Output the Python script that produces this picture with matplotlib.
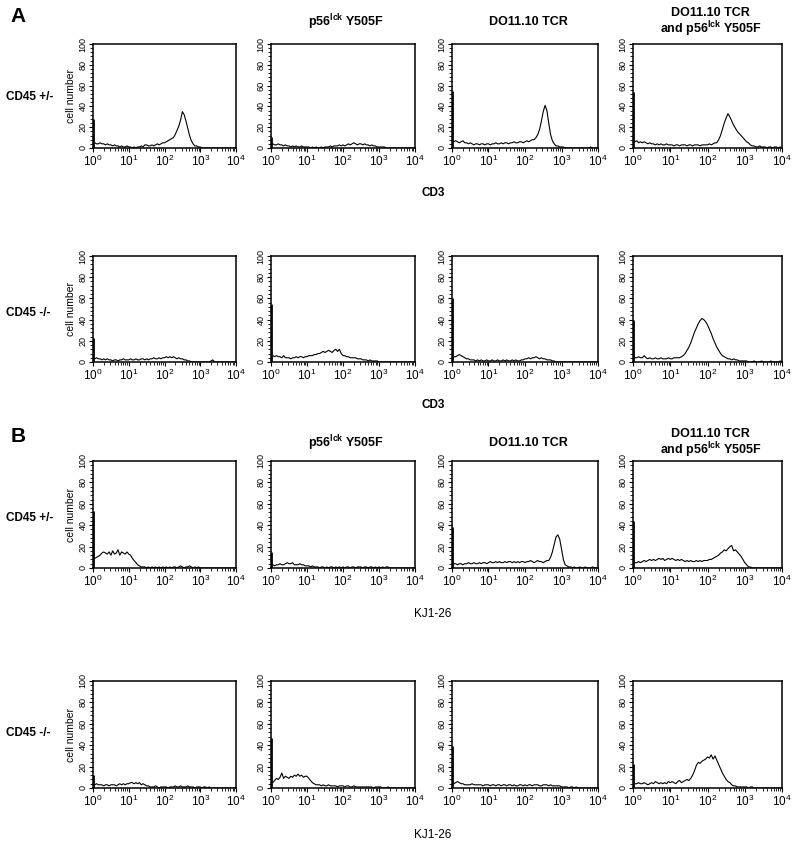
import numpy as np
import matplotlib
matplotlib.use("Agg")
import matplotlib.pyplot as plt
from matplotlib.ticker import LogLocator, LogFormatterMathtext, MultipleLocator, NullFormatter

plt.rcParams['font.family'] = ['Liberation Sans', 'DejaVu Sans']
plt.rcParams['mathtext.fontset'] = 'custom'
plt.rcParams['mathtext.rm'] = 'Liberation Sans'
plt.rcParams['mathtext.bf'] = 'Liberation Sans:bold'

# fluorescence channel positions (log10 of intensity), 81 bins over 4 decades
channel_log10 = np.linspace(0, 4, 81)

# ---- Panel A: CD3 staining ----
cd3_het_ctrl = [28,
    5,4,4,5,4,4,3,4,3,3,2,3,2,2,1,2,1,1,2,
    1,1,0,1,0,1,1,2,1,3, 3,2,2,3,2,3,4,3,4,5,
    5,6,7,8,9,10,13,17,21,27, 35,32,26,19,12,7,4,2,2,1,
    1,0,0,0,0,0,0,0,0,0, 0,0,0,0,0,0,0,0,0,0,0]
cd3_het_lck = [11,
    4,3,3,4,3,3,2,3,2,2,1,2,1,2,1,1,2,1,1,
    1,1,0,1,0,1,0,0,1,0, 1,1,1,2,1,2,2,2,3,2,
    3,2,3,4,3,4,5,4,3,4, 4,3,4,3,3,2,3,2,2,1,
    1,1,1,1,0,0,0,0,0,0, 0,0,0,0,0,0,0,0,0,0,0]
cd3_het_tcr = [55,
    6,7,6,5,6,7,5,5,4,5,4,3,4,4,3,4,4,3,4,
    4,3,4,4,5,4,4,5,4,5, 5,4,5,5,6,5,5,6,6,5,
    6,7,6,7,8,8,10,13,18,26, 35,41,36,24,13,7,4,2,2,1,
    1,1,0,0,0,0,0,0,0,0, 0,0,0,0,0,0,1,0,0,0,0]
cd3_het_tcr_lck = [54,
    6,7,5,6,5,6,5,4,5,4,4,3,4,3,4,3,3,4,3,
    3,3,2,3,3,2,3,3,3,2, 3,3,2,3,3,3,2,3,3,3,
    3,4,3,4,5,5,8,12,18,24, 29,33,30,26,22,19,16,14,12,10,
    8,6,5,3,2,2,1,1,2,1, 1,1,0,1,1,0,1,1,0,1,0]
cd3_ko_ctrl = [23,
    3,4,3,3,2,3,2,3,2,2,1,2,2,1,2,2,3,2,2,
    2,3,2,2,3,2,2,3,3,2, 3,2,3,3,4,3,3,4,3,4,
    4,5,4,5,4,5,4,3,4,3, 3,2,2,1,1,0,0,0,0,0,
    0,0,0,0,0,0,1,2,0,0, 0,0,0,0,0,0,0,0,0,0,0]
cd3_ko_lck = [55,
    6,5,6,5,5,4,6,4,4,4,3,4,4,5,4,5,5,4,5,
    5,6,6,6,7,7,8,8,9,10, 9,10,11,10,9,11,12,10,12,8,
    6,6,5,5,4,4,4,4,3,3, 3,2,2,2,1,2,1,1,1,1,
    0,0,0,0,0,0,0,0,0,0, 0,0,0,0,0,0,0,0,0,0,0]
cd3_ko_tcr = [60,
    5,5,6,7,6,5,4,3,3,2,2,2,1,2,1,2,1,1,2,
    1,1,2,1,1,2,1,1,2,1, 2,1,1,2,1,2,1,1,2,2,
    3,3,4,3,4,4,5,4,3,4, 3,3,2,2,2,1,1,0,0,0,
    0,0,0,0,0,0,0,0,0,0, 0,0,0,0,0,0,0,0,0,0,0]
cd3_ko_tcr_lck = [40,
    4,4,5,4,4,6,4,3,4,3,3,4,3,3,4,3,3,3,4,
    3,3,4,4,4,4,5,6,8,11, 14,18,23,28,32,36,39,41,40,38,
    35,31,27,22,18,14,11,8,6,5, 4,3,3,2,3,2,2,1,1,1,
    1,1,0,0,0,1,0,0,0,1, 0,0,0,0,1,0,0,0,0,1,0]

# ---- Panel B: KJ1-26 staining ----
kj_het_ctrl = [53,
    9,10,11,12,14,15,14,13,15,12,16,13,14,17,12,15,14,13,15,
    13,12,9,7,5,3,2,1,1,1, 0,1,0,1,0,1,0,1,0,1,
    0,1,0,1,0,1,1,0,1,2, 1,0,1,1,2,1,0,1,0,1,
    0,0,0,0,0,0,0,0,0,0, 0,0,0,0,0,0,0,0,0,0,0]
kj_het_lck = [15,
    3,2,3,3,4,3,3,4,5,4,4,5,3,3,3,4,3,3,2,
    2,2,1,2,1,1,1,0,1,1, 0,1,0,1,1,0,1,0,1,0,
    1,0,1,1,0,1,1,0,1,1, 1,0,1,1,0,1,1,0,1,0,
    1,0,1,0,1,1,0,0,0,0, 0,0,0,0,0,0,0,0,0,0,0]
kj_het_tcr = [38,
    4,4,3,4,4,3,4,4,5,4,4,5,4,4,5,4,5,5,4,
    5,6,5,5,6,5,6,5,5,6, 5,6,6,5,6,5,6,5,6,6,
    5,6,6,7,6,5,6,7,6,6, 5,6,7,7,10,15,22,29,31,27,
    18,8,3,2,1,1,0,1,0,0, 1,0,0,1,0,0,0,1,0,0,0]
kj_het_tcr_lck = [44,
    5,5,6,5,6,7,6,7,8,7,8,7,8,9,8,9,7,8,9,
    8,9,8,7,8,7,8,7,6,7, 6,7,6,6,7,6,7,6,7,7,
    7,8,8,9,10,11,12,14,15,17, 16,18,20,21,16,17,15,13,11,8,
    5,3,1,1,0,0,0,0,0,0, 0,0,0,0,0,0,0,0,0,0,0]
kj_ko_ctrl = [12,
    3,4,3,3,3,2,3,3,2,3,3,3,2,3,4,3,4,3,4,
    4,5,5,4,5,4,5,3,4,3, 2,2,1,1,1,2,1,0,1,1,
    1,1,0,1,1,1,2,1,1,2, 1,1,1,2,1,1,1,0,1,1,
    1,0,1,1,0,1,0,0,0,0, 0,0,0,0,0,0,0,0,0,0,0]
kj_ko_lck = [47,
    5,7,9,8,10,14,9,11,10,9,11,10,12,11,13,11,12,10,11,
    11,9,7,5,4,3,3,3,2,3, 2,2,3,2,2,2,2,1,2,2,
    2,1,2,2,1,1,2,1,1,1, 1,1,1,1,1,1,1,0,1,1,
    1,1,0,0,0,1,0,0,0,0, 0,0,0,0,0,0,0,0,0,0,0]
kj_ko_tcr = [39,
    4,5,6,5,4,4,3,3,3,3,4,3,3,3,3,3,2,3,3,
    3,2,3,3,2,3,3,2,3,3, 2,3,3,2,3,2,2,3,3,2,
    3,2,3,3,2,3,3,3,2,2, 3,3,3,2,3,2,2,2,2,2,
    1,1,1,1,0,1,1,0,1,0, 0,0,0,0,0,0,0,0,0,0,0]
kj_ko_tcr_lck = [22,
    4,4,5,4,4,5,4,3,4,5,4,6,5,4,5,4,5,4,6,
    5,6,5,4,6,7,5,6,7,8, 7,9,12,16,21,24,23,25,26,27,
    29,28,31,27,30,26,22,18,14,11, 8,6,5,3,2,2,1,1,1,1,
    1,1,0,1,1,0,0,0,0,0, 0,0,0,0,0,0,0,0,0,0,0]

grid = [
    [cd3_het_ctrl, cd3_het_lck, cd3_het_tcr, cd3_het_tcr_lck],
    [cd3_ko_ctrl, cd3_ko_lck, cd3_ko_tcr, cd3_ko_tcr_lck],
    [kj_het_ctrl, kj_het_lck, kj_het_tcr, kj_het_tcr_lck],
    [kj_ko_ctrl, kj_ko_lck, kj_ko_tcr, kj_ko_tcr_lck],
]
row_labels = ["CD45 +/-", "CD45 -/-", "CD45 +/-", "CD45 -/-"]
col_titles = ["", r"p56$^{\mathbf{lck}}$ Y505F", "DO11.10 TCR",
              "DO11.10 TCR\nand p56$^{\\mathbf{lck}}$ Y505F"]
marker_labels = ["CD3", "CD3", "KJ1-26", "KJ1-26"]
y_ticks = [0, 20, 40, 60, 80, 100]

W, H = 800, 848
fig = plt.figure(figsize=(W / 100, H / 100), dpi=100)

col_left = [93, 271, 452, 633]
col_w = [143, 144, 146, 149]
row_top = [44, 256, 461, 681]
row_h = [104, 106, 107, 107]

x = 10 ** channel_log10
for r in range(4):
    for c in range(4):
        vals = grid[r][c]
        l = col_left[c] / W
        b = 1 - (row_top[r] + row_h[r]) / H
        ax = fig.add_axes([l, b, col_w[c] / W, row_h[r] / H])
        # first channel (off-scale events) drawn as a spike on the axis
        ax.vlines(x[0], 0, vals[0], color='black', lw=2.0)
        ax.plot(x[1:], vals[1:], color='black', lw=0.8)
        ax.set_xscale('log')
        ax.set_xlim(1, 1e4)
        ax.set_ylim(0, 100)
        ax.xaxis.set_major_locator(LogLocator(base=10, numticks=10))
        ax.xaxis.set_major_formatter(LogFormatterMathtext())
        ax.xaxis.set_minor_locator(LogLocator(base=10, subs=np.arange(2, 10), numticks=20))
        ax.xaxis.set_minor_formatter(NullFormatter())
        ax.set_yticks(y_ticks)
        ax.yaxis.set_minor_locator(MultipleLocator(4))
        ax.tick_params(axis='x', labelsize=8.5, length=3, width=0.8, pad=1)
        ax.tick_params(axis='x', which='minor', length=2, width=0.6)
        ax.tick_params(axis='y', labelsize=6.5, length=3, width=0.8, pad=1)
        ax.tick_params(axis='y', which='minor', length=2, width=0.6)
        for lab in ax.get_yticklabels():
            lab.set_rotation(90)
            lab.set_va('center')
        for s in ax.spines.values():
            s.set_linewidth(1.1)
        if c == 0:
            ax.set_ylabel("cell number", fontsize=7.5, labelpad=2)

# row labels
row_label_y = [97, 313, 518, 733]
for r in range(4):
    fig.text(6 / W, 1 - row_label_y[r] / H, row_labels[r], fontsize=8.5,
             fontweight='bold', ha='left', va='center')

# column titles
for r, ty in [(0, 22), (2, 443)]:
    for c in range(1, 4):
        cx = (col_left[c] + col_w[c] / 2 + 3) / W
        yy = ty if c < 3 else ty + 1
        fig.text(cx, 1 - yy / H, col_titles[c], fontsize=9, fontweight='bold',
                 ha='center', va='center', linespacing=1.05)

# marker labels under each row
marker_y = [193, 405, 614, 835]
for r in range(4):
    fig.text(433 / W, 1 - marker_y[r] / H, marker_labels[r], fontsize=8.5,
             fontweight='bold' if r < 2 else 'normal', ha='center', va='center')

# panel letters
fig.text(18 / W, 1 - 17 / H, "A", fontsize=15, fontweight='bold', ha='center', va='center')
fig.text(18 / W, 1 - 437 / H, "B", fontsize=15, fontweight='bold', ha='center', va='center')

fig.savefig("out.png", dpi=100)
